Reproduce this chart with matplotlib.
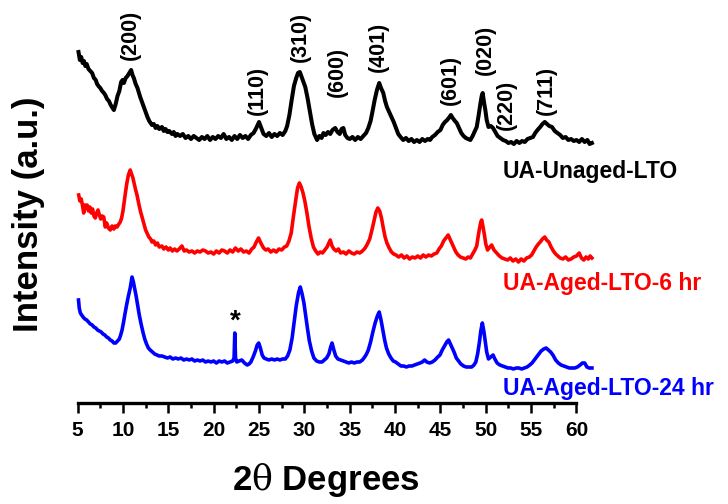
import numpy as np
import matplotlib
matplotlib.use("Agg")
import matplotlib.pyplot as plt
from matplotlib.ticker import MultipleLocator

plt.rcParams['font.family'] = ['Liberation Sans', 'DejaVu Sans']
plt.rcParams['mathtext.fontset'] = 'custom'
plt.rcParams['mathtext.rm'] = 'DejaVu Serif'

# ---- XRD patterns: 2theta (deg) and intensity (a.u.) ----
unaged_2theta = [5.10, 5.25, 5.40, 5.55, 5.70, 5.85, 6.00, 6.20, 6.40, 6.60, 6.80, 7.00, 7.15, 7.30, 7.50, 7.70, 7.90, 8.05,
                 8.25, 8.45, 8.65, 8.85, 9.00, 9.20, 9.40, 9.60, 9.80, 9.95, 10.10, 10.30, 10.50, 10.70, 10.90, 11.05, 11.20,
                 11.40, 11.60, 11.90, 12.10, 12.30, 12.50, 12.70, 12.90, 13.20, 13.40, 13.60, 13.80, 14.00, 14.30, 14.50,
                 14.70, 14.90, 15.10, 15.40, 15.60, 15.80, 16.00, 16.30, 16.60, 16.90, 17.20, 17.50, 17.80, 18.10, 18.40,
                 18.70, 19.00, 19.30, 19.60, 19.90, 20.20, 20.50, 20.80, 21.10, 21.40, 21.70, 22.00, 22.30, 22.60, 22.90,
                 23.20, 23.50, 23.80, 24.10, 24.40, 24.70, 25.00, 25.25, 25.50, 25.80, 26.10, 26.40, 26.70, 27.00, 27.30,
                 27.60, 27.90, 28.10, 28.35, 28.60, 28.85, 29.10, 29.30, 29.50, 29.70, 29.90, 30.10, 30.35, 30.60, 30.85,
                 31.10, 31.40, 31.65, 31.90, 32.10, 32.35, 32.60, 32.85, 33.10, 33.40, 33.65, 33.90, 34.10, 34.30, 34.50,
                 34.75, 35.00, 35.30, 35.60, 35.90, 36.20, 36.50, 36.80, 37.05, 37.30, 37.50, 37.75, 38.00, 38.25, 38.45,
                 38.70, 38.90, 39.10, 39.35, 39.60, 39.85, 40.10, 40.35, 40.60, 40.90, 41.20, 41.50, 41.80, 42.10, 42.40,
                 42.70, 43.00, 43.30, 43.60, 43.85, 44.10, 44.40, 44.70, 45.00, 45.25, 45.50, 45.75, 46.00, 46.15, 46.35,
                 46.60, 46.80, 47.05, 47.30, 47.55, 47.80, 48.05, 48.30, 48.55, 48.80, 49.00, 49.20, 49.40, 49.55, 49.66,
                 49.80, 49.95, 50.10, 50.30, 50.55, 50.80, 51.05, 51.30, 51.60, 51.90, 52.20, 52.50, 52.80, 53.10, 53.40,
                 53.70, 54.00, 54.30, 54.60, 54.90, 55.20, 55.45, 55.70, 56.00, 56.25, 56.50, 56.75, 57.00, 57.30, 57.60,
                 57.90, 58.20, 58.50, 58.80, 59.10, 59.40, 59.70, 60.00, 60.30, 60.60, 60.90, 61.20, 61.45, 61.70]
unaged_int = [96, 88, 91, 85, 87, 82, 84, 79, 77, 75, 70, 68, 64, 62, 60, 57, 55, 53,
              49, 47, 43, 40, 38, 44, 52, 57, 66, 68, 65, 70, 72, 75, 78, 73, 70,
              64, 60, 51, 46, 41, 36, 31, 27, 23, 24, 20, 22, 19, 21, 17,
              19, 16, 17, 14, 16, 12, 14, 12, 14, 10, 12, 9, 12, 10, 8,
              11, 9, 12, 8, 11, 9, 12, 10, 14, 9, 11, 8, 12, 9, 13,
              10, 12, 9, 13, 15, 20, 26, 20, 14, 12, 15, 11, 14, 12, 15,
              13, 17, 22, 33, 48, 62, 70, 75, 76, 71, 66, 61, 50, 37, 24,
              14, 8, 12, 10, 15, 13, 16, 14, 18, 20, 16, 14, 19, 20, 13,
              10, 9, 11, 8, 11, 9, 12, 15, 20, 27, 36, 48, 58, 65, 60,
              55, 47, 41, 36, 31, 26, 20, 14, 11, 8, 10, 7, 9, 6, 8,
              6, 9, 7, 9, 8, 11, 13, 16, 18, 23, 26, 28, 31, 33, 30,
              27, 25, 20, 15, 12, 10, 9, 8, 12, 17, 21, 32, 44, 52, 55,
              46, 38, 28, 21, 22, 20, 16, 12, 10, 8, 7, 5, 6, 4, 7,
              5, 7, 6, 9, 10, 11, 15, 18, 21, 24, 26, 24, 22, 21, 17,
              15, 13, 10, 11, 8, 9, 7, 8, 6, 9, 6, 8, 4, 5]

aged6_2theta = [5.12, 5.25, 5.40, 5.55, 5.67, 5.80, 5.95, 6.05, 6.20, 6.35, 6.50, 6.65, 6.80, 6.95, 7.10, 7.25, 7.40, 7.55,
                7.70, 7.88, 8.05, 8.20, 8.40, 8.60, 8.80, 9.00, 9.15, 9.35, 9.55, 9.70, 9.85, 10.00, 10.15, 10.30, 10.45,
                10.60, 10.80, 10.95, 11.10, 11.25, 11.40, 11.55, 11.75, 11.95, 12.10, 12.30, 12.50, 12.65, 12.85, 13.05,
                13.20, 13.40, 13.60, 13.80, 14.00, 14.30, 14.50, 14.75, 15.00, 15.20, 15.45, 15.70, 15.95, 16.20, 16.50,
                16.75, 17.00, 17.30, 17.60, 17.90, 18.20, 18.50, 18.80, 19.10, 19.40, 19.70, 20.00, 20.30, 20.60, 20.90,
                21.20, 21.50, 21.80, 22.10, 22.40, 22.70, 23.00, 23.30, 23.60, 23.90, 24.20, 24.45, 24.70, 24.95, 25.20,
                25.50, 25.75, 26.00, 26.30, 26.60, 26.90, 27.20, 27.50, 27.80, 28.05, 28.30, 28.55, 28.80, 29.05, 29.25,
                29.45, 29.65, 29.85, 30.05, 30.30, 30.50, 30.75, 31.00, 31.25, 31.50, 31.75, 32.00, 32.25, 32.50, 32.70,
                32.85, 33.05, 33.25, 33.50, 33.75, 34.00, 34.30, 34.60, 34.90, 35.20, 35.50, 35.80, 36.10, 36.40, 36.70,
                36.95, 37.20, 37.45, 37.70, 37.90, 38.10, 38.30, 38.50, 38.70, 38.90, 39.10, 39.35, 39.60, 39.85, 40.10,
                40.40, 40.70, 41.00, 41.30, 41.60, 41.90, 42.20, 42.50, 42.80, 43.10, 43.40, 43.70, 44.00, 44.30, 44.60,
                44.85, 45.10, 45.35, 45.60, 45.85, 46.05, 46.25, 46.45, 46.70, 46.95, 47.20, 47.50, 47.80, 48.05, 48.30,
                48.55, 48.80, 49.00, 49.15, 49.30, 49.45, 49.55, 49.70, 49.85, 50.00, 50.20, 50.45, 50.65, 50.90, 51.20,
                51.50, 51.80, 52.10, 52.40, 52.70, 53.00, 53.30, 53.60, 53.90, 54.20, 54.50, 54.80, 55.05, 55.30, 55.55,
                55.80, 56.00, 56.25, 56.50, 56.70, 56.95, 57.20, 57.45, 57.70, 57.95, 58.20, 58.50, 58.80, 59.10, 59.40,
                59.70, 60.00, 60.30, 60.55, 60.80, 61.05, 61.30, 61.50, 61.70]
aged6_int = [68, 62, 64, 57, 50, 58, 55, 58, 52, 56, 50, 54, 47, 45, 50, 53, 48, 44,
             47, 46, 36, 40, 35, 33, 37, 34, 37, 36, 39, 41, 45, 52, 62, 72, 81,
             88, 93, 89, 85, 79, 73, 68, 59, 51, 46, 39, 33, 30, 26, 24,
             21, 22, 18, 20, 16, 17, 14, 16, 13, 15, 12, 14, 12, 14, 17,
             12, 13, 11, 12, 10, 12, 11, 13, 12, 10, 11, 9, 12, 10, 13,
             12, 10, 13, 11, 15, 12, 14, 11, 12, 10, 14, 16, 21, 25, 20,
             15, 13, 14, 11, 13, 11, 14, 13, 16, 17, 22, 30, 47, 63, 75,
             80, 76, 70, 62, 49, 37, 25, 16, 12, 9, 11, 10, 13, 16, 20,
             23, 17, 14, 12, 14, 10, 11, 9, 12, 10, 9, 11, 10, 12, 15,
             19, 24, 33, 43, 51, 55, 52, 45, 35, 26, 20, 15, 11, 9, 8,
             6, 8, 5, 7, 4, 6, 5, 7, 5, 8, 6, 8, 7, 9, 10,
             14, 17, 22, 25, 28, 24, 20, 16, 11, 8, 6, 5, 4, 6, 5,
             9, 13, 17, 26, 34, 41, 43, 36, 28, 19, 13, 16, 18, 13, 10,
             7, 5, 4, 3, 5, 2, 4, 1, 4, 2, 5, 6, 8, 12, 16,
             19, 21, 24, 26, 23, 21, 16, 12, 9, 7, 5, 4, 6, 3, 4,
             6, 7, 10, 5, 3, 6, 4, 7, 5]

aged24_2theta = [5.10, 5.18, 5.30, 5.45, 5.60, 5.80, 6.00, 6.20, 6.40, 6.60, 6.80, 7.00, 7.20, 7.40, 7.60, 7.80, 8.00, 8.20,
                 8.40, 8.60, 8.80, 9.00, 9.20, 9.40, 9.60, 9.75, 9.90, 10.05, 10.20, 10.40, 10.60, 10.80, 11.00, 11.15,
                 11.30, 11.45, 11.60, 11.80, 12.00, 12.20, 12.40, 12.60, 12.80, 13.00, 13.25, 13.50, 13.75, 14.00, 14.30,
                 14.60, 14.90, 15.20, 15.50, 15.80, 16.10, 16.40, 16.70, 17.00, 17.30, 17.60, 17.90, 18.20, 18.50, 18.80,
                 19.10, 19.40, 19.70, 20.00, 20.30, 20.60, 20.90, 21.20, 21.50, 21.80, 22.10, 22.25, 22.33, 22.41, 22.55,
                 22.80, 23.10, 23.40, 23.70, 23.90, 24.10, 24.35, 24.60, 24.80, 24.97, 25.15, 25.35, 25.55, 25.80, 26.10,
                 26.40, 26.70, 27.00, 27.30, 27.60, 27.90, 28.15, 28.40, 28.65, 28.90, 29.10, 29.35, 29.55, 29.75, 29.95,
                 30.15, 30.35, 30.55, 30.80, 31.05, 31.35, 31.65, 31.95, 32.20, 32.45, 32.70, 32.90, 33.05, 33.25, 33.45,
                 33.70, 34.00, 34.30, 34.60, 34.90, 35.20, 35.50, 35.80, 36.10, 36.40, 36.65, 36.85, 37.05, 37.30, 37.55,
                 37.80, 38.05, 38.25, 38.45, 38.65, 38.85, 39.05, 39.30, 39.55, 39.80, 40.05, 40.35, 40.65, 40.95, 41.25,
                 41.55, 41.85, 42.15, 42.45, 42.75, 43.00, 43.25, 43.50, 43.80, 44.10, 44.40, 44.70, 44.95, 45.20, 45.45,
                 45.70, 45.90, 46.10, 46.30, 46.50, 46.75, 47.00, 47.25, 47.55, 47.85, 48.15, 48.45, 48.70, 48.90, 49.10,
                 49.30, 49.45, 49.62, 49.80, 49.95, 50.10, 50.30, 50.55, 50.80, 51.00, 51.25, 51.55, 51.85, 52.15, 52.45,
                 52.75, 53.05, 53.35, 53.65, 53.95, 54.25, 54.55, 54.85, 55.10, 55.35, 55.60, 55.85, 56.10, 56.40, 56.65,
                 56.90, 57.15, 57.40, 57.70, 58.00, 58.30, 58.60, 58.90, 59.20, 59.50, 59.80, 60.10, 60.40, 60.65, 60.90,
                 61.15, 61.40, 61.70]
aged24_int = [78, 70, 65, 63, 61, 59, 58, 56, 54, 53, 51, 50, 48, 47, 46, 44, 43, 41,
              40, 38, 37, 35, 35, 37, 39, 43, 48, 55, 63, 73, 82, 90, 101, 96,
              89, 82, 74, 63, 54, 46, 39, 34, 30, 28, 26, 24, 23, 22, 22,
              21, 20, 21, 19, 20, 19, 20, 18, 19, 18, 19, 17, 18, 17, 18,
              16, 17, 16, 17, 15, 17, 16, 17, 15, 16, 17, 20, 45, 20, 16,
              17, 18, 15, 13, 14, 16, 21, 27, 33, 35, 30, 23, 20, 19, 18,
              19, 18, 19, 18, 19, 19, 22, 28, 40, 58, 72, 85, 91, 84, 75,
              62, 49, 37, 27, 20, 17, 16, 16, 18, 20, 24, 31, 35, 28, 22,
              19, 18, 17, 16, 15, 16, 15, 16, 16, 18, 21, 24, 28, 36, 46,
              55, 62, 66, 58, 48, 38, 30, 24, 20, 17, 16, 14, 12, 12, 11,
              12, 12, 13, 14, 15, 16, 18, 16, 15, 16, 18, 21, 23, 28, 32,
              36, 38, 34, 30, 26, 20, 17, 14, 12, 11, 11, 11, 13, 16, 24,
              36, 47, 55, 46, 36, 26, 19, 21, 23, 19, 15, 13, 12, 11, 10,
              10, 9, 10, 10, 9, 10, 11, 13, 15, 18, 21, 24, 27, 29, 30,
              28, 26, 23, 18, 15, 13, 12, 11, 10, 10, 10, 11, 13, 15, 15,
              11, 10, 10]

# vertical stacking offsets for the three patterns
offsets = [255, 140, 25]
colors = ['#000000', '#ff0000', '#0000ff']
line_widths = [2.9, 2.6, 2.6]
sample_names = ['UA-Unaged-LTO', 'UA-Aged-LTO-6 hr', 'UA-Aged-LTO-24 hr']
name_baselines = [225, 113, 8]

# Miller indices and label anchors (2theta, bottom of rotated label)
hkl_labels = ['(200)', '(110)', '(310)', '(600)', '(401)', '(601)', '(020)', '(220)', '(711)']
hkl_2theta = [10.83, 24.78, 29.52, 33.60, 38.12, 46.06, 49.92, 52.24, 56.65]
hkl_bottom = [343, 288, 341, 306, 331, 298, 328, 273, 288]

fig = plt.figure(figsize=(7.28, 5.04), dpi=100)
ax = fig.add_axes([0.1066, 0.2004, 0.7102, 0.7996])

series = [(unaged_2theta, unaged_int), (aged6_2theta, aged6_int), (aged24_2theta, aged24_int)]
for (tt, inten), off, col, lw in zip(series, offsets, colors, line_widths):
    ax.plot(tt, np.asarray(inten) + off, color=col, lw=lw, solid_joinstyle='round', clip_on=False)

for lab, tt, yb in zip(hkl_labels, hkl_2theta, hkl_bottom):
    ax.text(tt, yb, lab, rotation=90, ha='center', va='bottom', fontsize=15.5, fontweight='bold')

for name, col, yb in zip(sample_names, colors, name_baselines):
    ax.text(51.9, yb, name, color=col, ha='left', va='baseline', fontsize=16.5,
            fontweight='bold', clip_on=False)

# impurity marker
ax.text(22.36, 74, '*', ha='center', va='baseline', fontsize=20, fontweight='bold')

ax.set_xlim(5, 62)
ax.set_ylim(0, 403)
for s in ['left', 'right', 'top']:
    ax.spines[s].set_visible(False)
ax.spines['bottom'].set_bounds(5, 60)
ax.spines['bottom'].set_linewidth(2.4)
ax.set_yticks([])
ax.set_xticks(np.arange(5, 61, 5))
ax.xaxis.set_minor_locator(MultipleLocator(2.5))
ax.tick_params(axis='x', which='major', direction='out', length=7, width=1.8, labelsize=15, pad=6)
ax.tick_params(axis='x', which='minor', direction='out', length=3.5, width=1.8)
for t in ax.get_xticklabels():
    t.set_fontweight('bold')

ax.set_xlabel(r'2$\mathrm{\theta}$ Degrees', fontsize=25, fontweight='bold')
ax.xaxis.set_label_coords(0.48, -0.145)
ax.set_ylabel('Intensity (a.u.)', fontsize=25, fontweight='bold')
ax.yaxis.set_label_coords(-0.063, 0.469)

fig.savefig('out.png', dpi=100)
